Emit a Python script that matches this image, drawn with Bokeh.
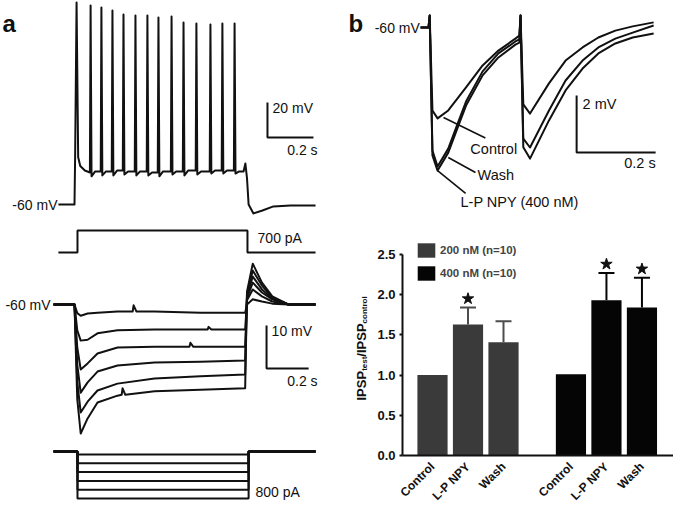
import math
from bokeh.plotting import figure
from bokeh.layouts import row, column
from bokeh.models import (Range1d, Label, Legend, LegendItem, ColumnDataSource,
                          Whisker, TeeHead, FixedTicker, NumeralTickFormatter)
from bokeh.embed import file_html
from bokeh.resources import INLINE

# ======================= DATA =======================
# (a, top) firing during a +700 pA step: spike times (s) and voltages (mV)
spike_t = [0.009, 0.070, 0.117, 0.165, 0.213, 0.265, 0.317, 0.365, 0.422,
           0.474, 0.530, 0.591, 0.643, 0.696]
spike_peak_mv = [55.4, 53.7, 52.6, 50.9, 48.6, 48.0, 48.0, 46.9, 47.4,
                 44.0, 43.4, 42.9, 43.4, 43.4]
spike_trough_mv = [-41.0, -43.9, -43.4, -43.4, -42.9, -43.4, -43.4, -43.9,
                   -42.9, -43.4, -42.9, -42.3, -42.3, -42.3]
spike_mid_mv = [-41.7, -41.1, -41.1, -40.6, -41.1, -41.1, -41.7, -41.1,
                -41.1, -40.6, -41.1, -40.6, -40.6, -41.1]
onset_t = [-0.07, 0.0, 0.003]
onset_mv = [-60.0, -60.0, -30.0]
first_decay_t = [0.011, 0.016, 0.025, 0.045]
first_decay_mv = [30.0, -33.0, -38.0, -40.6]
offset_t = [0.735, 0.743, 0.750, 0.757, 0.778, 0.817, 0.865, 0.939, 1.048]
offset_mv = [-41.1, -36.6, -45.0, -60.0, -65.1, -63.4, -61.1, -60.6, -60.6]

# current protocols (s, pA)
dep_step_t = [-0.07, 0.013, 0.013, 0.752, 0.752, 1.048]
dep_step_pa = [0, 0, 700, 700, 0, 0]
hyp_step_on, hyp_step_off = 0.013, 0.757
hyp_step_start, hyp_step_end = -0.091, 1.048
hyp_levels_pa = [-50, -200, -350, -500, -650, -800]

# (a, bottom) responses to hyperpolarising steps (mV)
hyp_t = [-0.091, 0.0, 0.012, 0.027, 0.057, 0.10, 0.187, 0.348, 0.548,
         0.742, 0.750, 0.775, 0.815, 0.86, 0.93, 1.048]
hyp_mv_1 = [-60, -60, -62.0, -62.6, -62.1, -61.9, -61.6, -61.6, -61.9,
            -61.9, -60.0, -58.8, -59.3, -59.8, -60, -60]
hyp_mv_2 = [-60, -60, -66.0, -68.4, -68.2, -66.7, -66.0, -65.8, -65.8,
            -65.8, -59.0, -56.5, -58.1, -59.3, -60, -60]
hyp_mv_3 = [-60, -60, -70.0, -75.1, -73.7, -71.4, -70.0, -69.8, -69.8,
            -69.8, -58.5, -54.9, -57.2, -58.8, -60, -60]
hyp_mv_4 = [-60, -60, -74.0, -80.5, -78.1, -75.6, -74.2, -73.5, -73.3,
            -73.0, -58.0, -53.5, -56.5, -58.6, -60, -60]
hyp_mv_5 = [-60, -60, -78.0, -85.1, -82.6, -80.0, -78.4, -77.2, -76.7,
            -76.3, -57.5, -52.1, -55.6, -58.4, -60, -60]
hyp_mv_6 = [-60, -60, -82.0, -90.0, -86.5, -82.8, -81.2, -80.2, -79.8,
            -79.5, -57.0, -50.5, -54.9, -58.1, -60, -60]
hyp_bump_trace = [0, 5, 1, 2]
hyp_bump_t = [0.257, 0.209, 0.583, 0.504]
hyp_bump_base_mv = [-61.6, -81.0, -65.8, -69.8]
hyp_bump_peak_mv = [-60.2, -79.5, -65.2, -68.9]

# (b, top) paired IPSPs (s, mV)
ipsp_t = [-0.02, 0.0, 0.003, 0.01, 0.023, 0.05, 0.075, 0.095, 0.137, 0.177,
          0.22, 0.23, 0.233, 0.24, 0.257, 0.305, 0.347, 0.39, 0.43, 0.473,
          0.517, 0.57]
ipsp_control = [-60, -60, -59.58, -62.91, -63.19, -62.91, -62.46, -62.1,
                -61.33, -60.81, -60.39, -60.28, -59.58, -62.7, -63.02,
                -61.96, -61.16, -60.70, -60.35, -60.11, -59.96, -59.82]
ipsp_wash = [-60, -60, -59.58, -64.32, -64.88, -64.25, -63.33, -62.6,
             -61.54, -60.91, -60.49, -60.42, -59.58, -63.9, -64.21, -62.91,
             -61.86, -61.16, -60.70, -60.39, -60.18, -59.93]
ipsp_lpnpy = [-60, -60, -59.58, -64.49, -65.02, -64.39, -63.47, -62.74,
              -61.68, -61.05, -60.6, -60.53, -59.58, -64.2, -64.6, -63.26,
              -62.21, -61.44, -60.91, -60.56, -60.35, -60.21]

# (b, bottom) IPSP ratio bar chart
conditions = ["Control", "L-P NPY", "Wash"]
groups = ["200 nM (n=10)", "400 nM (n=10)"]
ratio_200 = [1.00, 1.63, 1.41]
sem_200 = [0.0, 0.21, 0.26]
signif_200 = [False, True, False]
ratio_400 = [1.01, 1.93, 1.84]
sem_400 = [0.0, 0.34, 0.37]
signif_400 = [False, True, True]
y_ticks = [0.0, 0.5, 1.0, 1.5, 2.0, 2.5]
y_axis_max = 2.5

# ======================= STYLE / LAYOUT =======================
FONT = "Liberation Sans"
INK = "#111111"
GREY_BAR = "#3a3a3a"
GREY_ERR = "#4d4d4d"
LW = 2


def x_range_px(ref, px_left, ppu, width):
    s = ref - px_left / ppu
    return Range1d(s, s + width / ppu)


def y_range_px(ref, px_top, ppu, height):
    e = ref + px_top / ppu
    return Range1d(e - height / ppu, e)


def blank_fig(w, h, xr, yr):
    p = figure(width=w, height=h, x_range=xr, y_range=yr,
               output_backend="svg", toolbar_location=None,
               x_axis_location=None, y_axis_location=None,
               min_border=0, outline_line_color=None)
    p.xgrid.visible = False
    p.ygrid.visible = False
    p.background_fill_color = "white"
    p.border_fill_color = "white"
    p.frame_align = False
    return p


def add_text(p, x, y, text, size="14px", align="left", baseline="middle",
             bold=False, rng="default"):
    p.add_layout(Label(x=x, y=y, text=text, text_font=FONT,
                       text_font_size=size, text_align=align,
                       text_baseline=baseline, text_color=INK,
                       text_font_style="bold" if bold else "normal",
                       y_range_name=rng))


# ---------------- panel a ----------------
WA, HA = 340, 510
pa = blank_fig(WA, HA, x_range_px(0, 74, 230, WA), y_range_px(-60, 204, 1.75, HA))
pa.extra_y_ranges = {
    "istep": y_range_px(0, 252, 22 / 700, HA),
    "hyp": y_range_px(-60, 304, 4.3, HA),
    "hstep": y_range_px(0, 451, 47 / 800, HA),
}

# spike train
pts = list(zip(onset_t, onset_mv))
for i, (ts, vp) in enumerate(zip(spike_t, spike_peak_mv)):
    if i > 0:
        pts.append((ts - 0.003, spike_mid_mv[i - 1]))
    pts.append((ts, vp))
    if i == 0:
        pts += list(zip(first_decay_t, first_decay_mv))
    else:
        pts.append((ts + 0.004, spike_trough_mv[i]))
        pts.append((ts + 0.02, spike_mid_mv[i]))
pts += list(zip(offset_t, offset_mv))
pa.line([q[0] for q in pts], [q[1] for q in pts], line_color=INK,
        line_width=LW, line_join="round")

pa.line(dep_step_t, dep_step_pa, y_range_name="istep", line_color=INK,
        line_width=LW)

hyp_all = [hyp_mv_1, hyp_mv_2, hyp_mv_3, hyp_mv_4, hyp_mv_5, hyp_mv_6]
for k, vals in enumerate(hyp_all):
    tr = list(zip(hyp_t, vals))
    for j, tk in enumerate(hyp_bump_trace):
        if tk == k:
            tb = hyp_bump_t[j]
            tr += [(tb - 0.004, hyp_bump_base_mv[j]), (tb, hyp_bump_peak_mv[j]),
                   (tb + 0.012, hyp_bump_base_mv[j])]
    tr.sort()
    pa.line([q[0] for q in tr], [q[1] for q in tr], y_range_name="hyp",
            line_color=INK, line_width=LW, line_join="round")

for lev in hyp_levels_pa:
    pa.line([hyp_step_start, hyp_step_on, hyp_step_on, hyp_step_off,
              hyp_step_off, hyp_step_end], [0, 0, lev, lev, 0, 0],
             y_range_name="hstep", line_color=INK, line_width=LW)

# scale bars panel a
pa.line([0.839, 0.839, 1.039], [-1.7, -21.7, -21.7], line_color=INK, line_width=LW)
pa.line([0.835, 0.835, 1.018], [-64.9, -74.9, -74.9], y_range_name="hyp",
        line_color=INK, line_width=LW)

add_text(pa, -0.313, 43.4, "a", size="24px", baseline="alphabetic", bold=True)
add_text(pa, -0.074, -60, "-60 mV", align="right")
add_text(pa, 0.861, -5.1, "20 mV")
add_text(pa, 1.057, -29.1, "0.2 s", align="right")
add_text(pa, 0.796, 477, "700 pA", rng="istep")
add_text(pa, -0.104, -60, "-60 mV", align="right", rng="hyp")
add_text(pa, 0.857, -66.05, "10 mV", rng="hyp")
add_text(pa, 1.057, -77.7, "0.2 s", align="right", rng="hyp")
add_text(pa, 0.787, -681, "800 pA", rng="hstep")

# ---------------- panel b traces ----------------
WR, HB = 333, 232
pb = blank_fig(WR, HB, x_range_px(0, 428 - 340, 395, WR),
               y_range_px(-60, 27, 28.5, HB))
for vals in (ipsp_control, ipsp_wash, ipsp_lpnpy):
    pb.line(ipsp_t, vals, line_color=INK, line_width=LW, line_join="round")
# leader lines
pb.segment(x0=[0.038, 0.05, 0.023], y0=[-63.16, -64.56, -65.02],
           x1=[0.144, 0.119, 0.094], y1=[-63.88, -65.09, -65.82],
           line_color=INK, line_width=1.6)
pb.line([0.375, 0.375, 0.575], [-62.39, -64.39, -64.39], line_color=INK,
        line_width=LW)
add_text(pb, -0.2025, -59.86, "b", size="24px", baseline="alphabetic", bold=True)
add_text(pb, -0.022, -60, "-60 mV", align="right")
add_text(pb, 0.106, -64.25, "Control", size="14.5px")
add_text(pb, 0.124, -65.19, "Wash", size="14.5px")
add_text(pb, 0.081, -66.14, "L-P NPY (400 nM)", size="14.5px")
add_text(pb, 0.39, -62.67, "2 mV", size="14.5px")
add_text(pb, 0.575, -64.77, "0.2 s", size="14.5px", align="right")

# ---------------- panel b bar chart ----------------
HC = 278
WL = 30                       # strip holding the rotated y title
WC = WR - WL
BORDER_L = 402 - 340 - WL
BORDER_T = 6
BORDER_B = 55
PX_PER_BAR = 35.5
PX_PER_Y = 201 / 2.5
GROUP_OFFSET = 3.9
frame_w = WC - BORDER_L
frame_h = HC - BORDER_T - BORDER_B
x0 = -(432 - 402) / PX_PER_BAR
pc = figure(width=WC, height=HC, x_range=Range1d(x0, x0 + frame_w / PX_PER_BAR),
            y_range=Range1d(0, frame_h / PX_PER_Y), output_backend="svg",
            toolbar_location=None, min_border_left=BORDER_L, min_border_right=0,
            min_border_top=BORDER_T, min_border_bottom=BORDER_B,
            outline_line_color=None)
pc.frame_align = False
pc.xgrid.visible = False
pc.ygrid.visible = False

renderers = []
tick_pos, tick_lab = [], []
for g, (vals, sems, sig, col, ecol) in enumerate([
        (ratio_200, sem_200, signif_200, GREY_BAR, GREY_ERR),
        (ratio_400, sem_400, signif_400, "#050505", "#050505")]):
    xs = [round(i + g * GROUP_OFFSET, 3) for i in range(len(conditions))]
    tick_pos += xs
    tick_lab += conditions
    src = ColumnDataSource(dict(x=xs, top=vals))
    r = pc.vbar(x="x", top="top", width=0.85, source=src, fill_color=col,
                line_color=None)
    renderers.append(r)
    ex = [x for x, s in zip(xs, sems) if s > 0]
    etop = [v for v, s in zip(vals, sems) if s > 0]
    eup = [v + s for v, s in zip(vals, sems) if s > 0]
    esrc = ColumnDataSource(dict(x=ex, lower=etop, upper=eup))
    pc.add_layout(Whisker(base="x", lower="lower", upper="upper", source=esrc,
                          dimension="height", line_color=ecol, line_width=2,
                          upper_head=TeeHead(size=16, line_color=ecol, line_width=2),
                          lower_head=None))
    sx = [x for x, s, k in zip(xs, sems, sig) if k]
    sy = [v + s + 0.11 for v, s, k in zip(vals, sems, sig) if k]
    pc.scatter(sx, sy, marker="star", size=12, fill_color=INK, line_color=INK)

pc.xaxis.ticker = FixedTicker(ticks=tick_pos)
pc.xaxis.major_label_overrides = {x: lab for x, lab in zip(tick_pos, tick_lab)}
pc.xaxis.major_label_orientation = math.pi / 4
pc.xaxis.major_tick_line_color = None
pc.xaxis.minor_tick_line_color = None
pc.xaxis.major_label_standoff = 3
pc.yaxis.ticker = FixedTicker(ticks=y_ticks)
pc.yaxis.bounds = (0, y_axis_max)
pc.yaxis.formatter = NumeralTickFormatter(format="0.0")
pc.yaxis.major_tick_out = 3
pc.yaxis.major_tick_in = 0
pc.yaxis.major_tick_line_width = 2
pc.yaxis.minor_tick_line_color = None
pc.yaxis.major_label_standoff = 4
for ax in (pc.xaxis, pc.yaxis):
    ax.axis_line_width = 2
    ax.axis_line_color = INK
    ax.major_label_text_font = FONT
    ax.major_label_text_font_style = "bold"
    ax.major_label_text_color = INK
pc.yaxis.major_tick_line_color = INK
pc.xaxis.major_label_text_font_size = "12px"
pc.yaxis.major_label_text_font_size = "13px"

legend = Legend(items=[LegendItem(label=groups[0], renderers=[renderers[0]]),
                       LegendItem(label=groups[1], renderers=[renderers[1]])],
                location=(13, 173), orientation="vertical", padding=0, margin=0,
                spacing=5, glyph_width=22, glyph_height=18, label_height=18,
                label_standoff=3, label_text_font=FONT,
                label_text_font_size="11.5px", label_text_font_style="bold",
                border_line_color=None, background_fill_alpha=0)
pc.add_layout(legend)

# strip with the y-axis title: IPSP_test / IPSP_control (with subscripts)
pl = blank_fig(WL, HC, Range1d(0, WL), Range1d(0, HC))
BOLD_W = {"I": 278, "P": 667, "S": 667, "t": 333, "e": 556, "s": 556,
          "/": 278, "c": 556, "o": 611, "n": 611, "r": 389, "l": 278}
pieces = [("IPSP", 13, 0), ("test", 8, 3), ("/IPSP", 13, 0), ("control", 8, 3)]
ypx = 510 - 400.0
for txt, fs, drop in pieces:
    pl.add_layout(Label(x=361 - 340 + drop, y=ypx, angle=math.pi / 2, text=txt,
                        text_font=FONT, text_font_size=f"{fs}px",
                        text_font_style="bold", text_color=INK,
                        text_baseline="alphabetic", text_align="left"))
    ypx += sum(BOLD_W[c] for c in txt) / 1000 * fs

layout = row(pa, column(pb, row(pl, pc)))
open("out.html", "w").write(file_html(layout, INLINE))
